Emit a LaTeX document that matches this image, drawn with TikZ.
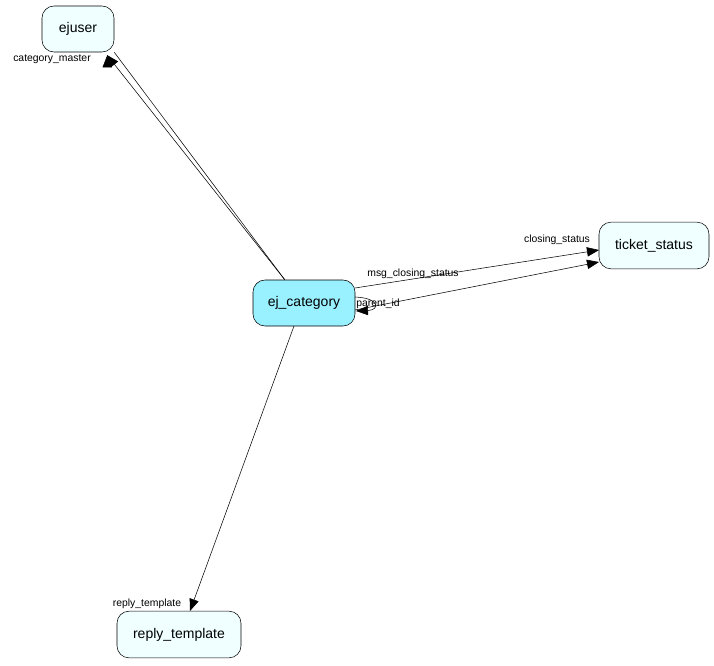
\documentclass[tikz,border=0pt]{standalone}
\usepackage{fontspec}
\setmainfont{Liberation Sans}
\usetikzlibrary{arrows.meta}
\definecolor{entfill}{HTML}{F0FFFF}
\definecolor{mainfill}{HTML}{99F0FF}
\begin{document}
\begin{tikzpicture}[x=0.75pt,y=-0.75pt,
    entity/.style={draw,rounded corners=9pt,fill=entfill,font=\fontsize{10.5}{12}\selectfont,inner sep=0pt},
    rel/.style={-{Triangle[length=9pt,width=7pt]}},
    lbl/.style={font=\fontsize{7.8}{9}\selectfont,inner sep=1pt}]
    \useasboundingbox (0,0) rectangle (714,665);
    % tables
    \node[entity,minimum width=54pt,minimum height=34.5pt] (ejuser) at (78,29) {ejuser};
    \node[entity,fill=mainfill,minimum width=76.5pt,minimum height=34.5pt] (cat) at (304,303) {ej\_category};
    \node[entity,minimum width=82.5pt,minimum height=35pt] (status) at (654,245.5) {ticket\_status};
    \node[entity,minimum width=93pt,minimum height=35pt] (reply) at (179,634.5) {reply\_template};
    % references
    \draw[rel] (cat.north west) ++(32,0) coordinate (c1) (c1) -- (ejuser.south east) ++(-7,3);
    \draw[rel] (285,280) -- (107,55);
    \draw[rel] (355,288) -- (599,250);
    \draw[rel] (355,310) -- (599,262);
    \draw[rel] (294,326) -- (190,611);
    \draw[rel] (355,297) .. controls (380,298) and (380,310) .. (356,311);
    % labels
    \node[lbl] (l1) at (52,59) {category\_master};
    \node[lbl] (l2) at (557,240) {closing\_status};
    \node[lbl] (l3) at (413,274) {msg\_closing\_status};
    \node[lbl] (l4) at (378,304) {parent\_id};
    \node[lbl] (l5) at (147,604) {reply\_template};
\end{tikzpicture}
\end{document}
